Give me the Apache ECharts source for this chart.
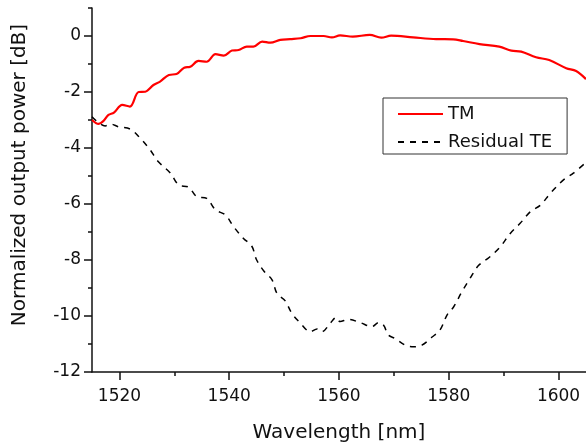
<!DOCTYPE html>
<html>
<head>
<meta charset="utf-8">
<title>TM / Residual TE</title>
<script src="https://cdn.jsdelivr.net/npm/echarts@6/dist/echarts.min.js"></script>
<style>
  html, body { margin: 0; padding: 0; background: #fff; }
  #chart { width: 586px; height: 445px; }
</style>
</head>
<body>
<div id="chart"></div>
<script>
// TM 曲线 (红色实线)
const tmWave = [1515, 1516.2, 1517, 1518, 1519, 1520.5, 1521.9, 1523.5, 1524.7, 1526.2, 1527.4, 1529, 1530.4,
  1531.8, 1532.9, 1534.4, 1535.9, 1537.5, 1539, 1540.5, 1541.7, 1543.2, 1544.4, 1546, 1547.5, 1549.3, 1551.1,
  1553, 1554.8, 1557.2, 1558.7, 1560.2, 1562.5, 1565.6, 1567.7, 1569.5, 1573.5, 1577.7, 1580.8, 1582.6, 1585.6,
  1589.2, 1591.4, 1593.2, 1595.9, 1598.3, 1601.4, 1603.2, 1605];
const tmPower = [-3.0, -3.14, -3.05, -2.82, -2.74, -2.46, -2.52, -2.0, -1.99, -1.75, -1.63, -1.39, -1.36,
  -1.13, -1.1, -0.89, -0.92, -0.65, -0.70, -0.52, -0.5, -0.38, -0.38, -0.2, -0.24, -0.14, -0.11,
  -0.08, 0, 0, -0.05, 0.02, -0.02, 0.04, -0.06, 0.01, -0.05, -0.11, -0.12, -0.18, -0.29,
  -0.38, -0.52, -0.56, -0.76, -0.86, -1.15, -1.25, -1.54];

// Residual TE 曲线 (黑色虚线)
const teWave = [1515, 1517.4, 1518.5, 1519.8, 1522, 1523.8, 1525.6, 1527.1, 1529.3, 1530.8, 1532.6, 1534.1,
  1535.9, 1537.5, 1539.3, 1540.8, 1542.6, 1544.1, 1545, 1546.3, 1547.8, 1548.7, 1550.2, 1551.4, 1552.9,
  1554.8, 1556, 1556.9, 1558.4, 1559.5, 1560.2, 1561.7, 1563.9, 1566, 1567.2, 1568.1, 1569, 1570.2, 1572.1,
  1573.6, 1575.1, 1576.9, 1578.4, 1579.7, 1580.9, 1582.4, 1583.9, 1585.4, 1587.4, 1589.3, 1591.2, 1593,
  1594.9, 1596.7, 1598.5, 1600.9, 1602.7, 1604.8];
const tePower = [-2.88, -3.21, -3.15, -3.24, -3.33, -3.65, -4.07, -4.49, -4.9, -5.32, -5.4, -5.74,
  -5.8, -6.21, -6.39, -6.81, -7.23, -7.5, -8.0, -8.39, -8.71, -9.19, -9.46, -9.9, -10.24,
  -10.56, -10.46, -10.56, -10.26, -10.05, -10.2, -10.12, -10.24, -10.38, -10.24, -10.32, -10.68, -10.8, -11.04,
  -11.1, -11.04, -10.76, -10.5, -9.96, -9.67, -9.13, -8.65, -8.2, -7.9, -7.55, -7.05, -6.69,
  -6.27, -6.04, -5.62, -5.14, -4.9, -4.55];

// 刻度
const xMajor = [1520, 1540, 1560, 1580, 1600];
const xMinor = [1530, 1550, 1570, 1590];
const yMajor = [-12, -10, -8, -6, -4, -2, 0];
const yMinor = [-11, -9, -7, -5, -3, -1, 1];

const font = 'DejaVu Sans';
const ink = '#111';

function pairs(xs, ys) {
  return xs.map((x, i) => [x, ys[i]]);
}

const myChart = echarts.init(document.getElementById('chart'));

const baseX = {
  type: 'value', min: 1515, max: 1605,
  splitLine: { show: false }
};
const baseY = {
  type: 'value', min: -12, max: 1,
  splitLine: { show: false }
};

const option = {
  animation: false,
  grid: { left: 92, right: 0, top: 8, bottom: 73, outerBoundsMode: 'none' },
  legend: {
    left: 383, top: 98,
    orient: 'vertical',
    itemWidth: 45, itemHeight: 14, itemGap: 10,
    padding: [7, 15, 3, 14],
    borderColor: '#333', borderWidth: 1,
    itemStyle: { opacity: 0 },
    textStyle: { fontFamily: font, fontSize: 18, color: ink },
    data: ['TM', 'Residual TE']
  },
  xAxis: [
    Object.assign({}, baseX, {
      name: 'Wavelength [nm]',
      nameLocation: 'middle', nameGap: 51,
      nameTextStyle: { fontFamily: font, fontSize: 20, color: ink },
      axisLine: { onZero: false, lineStyle: { color: ink, width: 1.5 } },
      axisTick: { length: 8, lineStyle: { color: ink, width: 1.5 }, customValues: xMajor },
      axisLabel: { fontFamily: font, fontSize: 17, color: ink, margin: 16, customValues: xMajor,
        formatter: v => String(v) }
    }),
    // 次刻度
    Object.assign({}, baseX, {
      position: 'bottom',
      axisLine: { show: false, onZero: false },
      axisTick: { length: 4, lineStyle: { color: ink, width: 1.5 }, customValues: xMinor },
      axisLabel: { show: false }
    })
  ],
  yAxis: [
    Object.assign({}, baseY, {
      name: 'Normalized output power [dB]',
      nameLocation: 'middle', nameGap: 62,
      nameTextStyle: { fontFamily: font, fontSize: 20, color: ink, padding: [0, 0, 0, 30] },
      axisLine: { show: true, onZero: false, lineStyle: { color: ink, width: 1.5 } },
      axisTick: { show: true, length: 8, lineStyle: { color: ink, width: 1.5 }, customValues: yMajor },
      axisLabel: { fontFamily: font, fontSize: 17, color: ink, margin: 11, customValues: yMajor }
    }),
    Object.assign({}, baseY, {
      position: 'left',
      axisLine: { show: false, onZero: false },
      axisTick: { show: true, length: 4, lineStyle: { color: ink, width: 1.5 }, customValues: yMinor },
      axisLabel: { show: false }
    })
  ],
  series: [
    {
      name: 'TM',
      type: 'line',
      data: pairs(tmWave, tmPower),
      symbol: 'none',
      smooth: 0.35,
      lineStyle: { color: '#ff0000', width: 2.2 },
      itemStyle: { color: '#ff0000' }
    },
    {
      name: 'Residual TE',
      type: 'line',
      data: pairs(teWave, tePower),
      symbol: 'none',
      smooth: 0.35,
      lineStyle: { color: '#000', width: 1.5, type: [6, 6] },
      itemStyle: { color: '#000' }
    }
  ]
};

myChart.setOption(option);
</script>
</body>
</html>
